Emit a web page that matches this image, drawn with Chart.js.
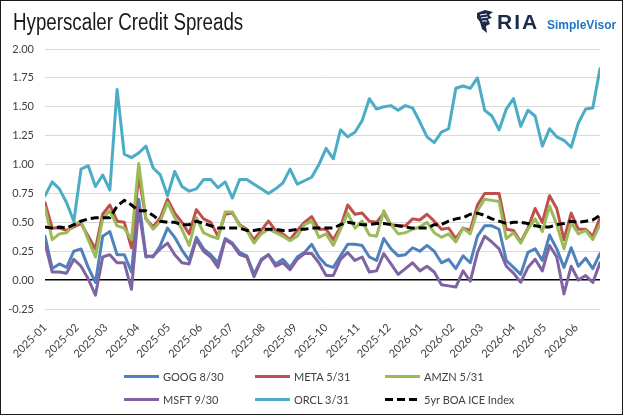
<!DOCTYPE html>
<html>
<head>
<meta charset="utf-8">
<script src="https://cdn.jsdelivr.net/npm/chart.js@4/dist/chart.umd.min.js"></script>
<style>
  html, body { margin: 0; padding: 0; background: #fff; }
  #wrap { position: relative; width: 625px; height: 417px; overflow: hidden; font-family: Lato, 'Liberation Sans', sans-serif; }
  #chart { position: absolute; left: 0; top: 0; }
  #frame { position: absolute; left: 0; top: 0; width: 621px; height: 413px; border: 1px solid #1a1a1a; pointer-events: none; }
  #title { position: absolute; left: 13px; top: 11px; font: 23px/1 'Liberation Sans', Arial, sans-serif; color: #1a1a1a;
           transform: scaleX(0.815); transform-origin: left top; white-space: nowrap; }
  #logo-icon { position: absolute; left: 476px; top: 10px; }
  #logo-ria { position: absolute; left: 497px; top: 11px; font: bold 21px/1 'Liberation Sans', Arial, sans-serif; color: #1c2b4a; letter-spacing: 2px; }
  #logo-sv { position: absolute; left: 547px; top: 19px; font: bold 12px/1 'Liberation Sans', Arial, sans-serif; color: #2274c4; }
  .item { position: absolute; height: 16px; display: flex; align-items: center; font-size: 11px; color: #404040; white-space: nowrap; }
  .swatch { width: 35px; height: 3px; margin-right: 4px; }
</style>
</head>
<body>
<div id="wrap">
  <canvas id="chart" width="625" height="417"></canvas>
  <div id="title">Hyperscaler Credit Spreads</div>
  <svg id="logo-icon" width="18" height="24" viewBox="0 0 18 24">
    <path d="M1 3 L9 0 L17 2 L13 5 L16 8 L12 9 L14 14 L10 16 L11 23 L6 19 L4 12 L1 8 Z" fill="#1c2b4a"/>
    <path d="M4 5 L11 4 M5 8 L12 7 M6 11 L11 11" stroke="#fff" stroke-width="1"/>
  </svg>
  <div id="logo-ria">RIA</div>
  <div id="logo-sv">SimpleVisor</div>
  <div id="legend"></div>
  <div id="frame"></div>
</div>
<script>
// weekly observations
const dates = [
  '2025-01-03', '2025-01-10', '2025-01-17', '2025-01-24', '2025-01-31', '2025-02-07', '2025-02-14', '2025-02-21', '2025-02-28', '2025-03-07',
  '2025-03-14', '2025-03-21', '2025-03-28', '2025-04-04', '2025-04-11', '2025-04-18', '2025-04-25', '2025-05-02', '2025-05-09', '2025-05-16',
  '2025-05-23', '2025-05-30', '2025-06-06', '2025-06-13', '2025-06-20', '2025-06-27', '2025-07-04', '2025-07-11', '2025-07-18', '2025-07-25',
  '2025-08-01', '2025-08-08', '2025-08-15', '2025-08-22', '2025-08-29', '2025-09-05', '2025-09-12', '2025-09-19', '2025-09-26', '2025-10-03',
  '2025-10-10', '2025-10-17', '2025-10-24', '2025-10-31', '2025-11-07', '2025-11-14', '2025-11-21', '2025-11-28', '2025-12-05', '2025-12-12',
  '2025-12-19', '2025-12-26', '2026-01-02', '2026-01-09', '2026-01-16', '2026-01-23', '2026-01-30', '2026-02-06', '2026-02-13', '2026-02-20',
  '2026-02-27', '2026-03-06', '2026-03-13', '2026-03-20', '2026-03-27', '2026-04-03', '2026-04-10', '2026-04-17', '2026-04-24', '2026-05-01',
  '2026-05-08', '2026-05-15', '2026-05-22', '2026-05-29', '2026-06-05', '2026-06-12', '2026-06-19', '2026-06-26'
];

const goog = [
  0.38, 0.10, 0.14, 0.11, 0.25, 0.27, 0.11, -0.02, 0.38, 0.42,
  0.22, 0.22, 0.07, 0.70, 0.21, 0.20, 0.30, 0.45, 0.37, 0.26,
  0.17, 0.37, 0.27, 0.22, 0.15, 0.36, 0.32, 0.24, 0.21, 0.05,
  0.18, 0.22, 0.14, 0.18, 0.11, 0.20, 0.24, 0.31, 0.20, 0.13,
  0.11, 0.21, 0.31, 0.31, 0.30, 0.20, 0.17, 0.36, 0.27, 0.21,
  0.22, 0.28, 0.25, 0.30, 0.25, 0.15, 0.18, 0.10, 0.21, 0.15,
  0.38, 0.47, 0.47, 0.44, 0.17, 0.11, 0.05, 0.24, 0.27, 0.17,
  0.39, 0.27, 0.11, 0.28, 0.12, 0.19, 0.10, 0.23
];
const meta = [
  0.67, 0.45, 0.45, 0.43, 0.46, 0.49, 0.38, 0.27, 0.57, 0.65,
  0.51, 0.50, 0.28, 0.91, 0.53, 0.46, 0.54, 0.70, 0.58, 0.50,
  0.40, 0.61, 0.53, 0.50, 0.38, 0.57, 0.58, 0.48, 0.44, 0.35,
  0.43, 0.51, 0.43, 0.40, 0.35, 0.43, 0.50, 0.55, 0.44, 0.44,
  0.35, 0.46, 0.65, 0.57, 0.58, 0.51, 0.50, 0.58, 0.48, 0.47,
  0.47, 0.53, 0.52, 0.57, 0.51, 0.44, 0.45, 0.36, 0.45, 0.43,
  0.65, 0.75, 0.75, 0.75, 0.44, 0.43, 0.33, 0.45, 0.62, 0.50,
  0.73, 0.62, 0.35, 0.58, 0.44, 0.44, 0.38, 0.54
];
const amzn = [
  0.63, 0.35, 0.40, 0.41, 0.48, 0.51, 0.35, 0.20, 0.53, 0.60,
  0.47, 0.45, 0.35, 1.01, 0.53, 0.44, 0.51, 0.67, 0.54, 0.44,
  0.30, 0.54, 0.41, 0.38, 0.36, 0.59, 0.59, 0.47, 0.43, 0.32,
  0.40, 0.44, 0.41, 0.38, 0.34, 0.38, 0.48, 0.51, 0.37, 0.40,
  0.30, 0.44, 0.58, 0.45, 0.51, 0.39, 0.38, 0.60, 0.48, 0.40,
  0.41, 0.44, 0.46, 0.50, 0.41, 0.37, 0.40, 0.33, 0.45, 0.40,
  0.60, 0.70, 0.69, 0.68, 0.36, 0.41, 0.32, 0.44, 0.53, 0.42,
  0.64, 0.48, 0.27, 0.50, 0.40, 0.43, 0.35, 0.48
];
const msft = [
  0.32, 0.07, 0.07, 0.06, 0.18, 0.12, 0.01, -0.13, 0.20, 0.22,
  0.15, 0.15, -0.08, 0.62, 0.20, 0.21, 0.27, 0.32, 0.22, 0.15,
  0.14, 0.35, 0.25, 0.20, 0.11, 0.35, 0.31, 0.22, 0.20, 0.03,
  0.17, 0.22, 0.12, 0.15, 0.09, 0.18, 0.23, 0.23, 0.15, 0.04,
  0.04, 0.18, 0.24, 0.17, 0.20, 0.07, 0.08, 0.23, 0.14, 0.05,
  0.10, 0.15, 0.08, 0.12, 0.07, -0.04, -0.05, -0.06, 0.08, -0.01,
  0.24, 0.38, 0.33, 0.27, 0.12, 0.06, -0.02, 0.11, 0.18, 0.08,
  0.30, 0.20, -0.12, 0.12, 0.00, 0.04, -0.02, 0.15
];
const orcl = [
  0.73, 0.85, 0.79, 0.67, 0.51, 0.96, 0.99, 0.81, 0.91, 0.78,
  1.65, 1.09, 1.06, 1.10, 1.16, 0.97, 0.91, 0.73, 0.94, 0.81,
  0.77, 0.79, 0.87, 0.87, 0.80, 0.85, 0.71, 0.87, 0.87, 0.83,
  0.79, 0.75, 0.79, 0.84, 0.96, 0.83, 0.86, 0.89, 1.00, 1.14,
  1.05, 1.30, 1.24, 1.28, 1.38, 1.57, 1.48, 1.50, 1.51, 1.47,
  1.51, 1.49, 1.37, 1.24, 1.19, 1.28, 1.31, 1.66, 1.68, 1.66,
  1.75, 1.47, 1.42, 1.30, 1.48, 1.57, 1.33, 1.47, 1.42, 1.16,
  1.31, 1.24, 1.21, 1.15, 1.36, 1.48, 1.49, 1.83
];
const boa5yr = [
  0.46, 0.45, 0.46, 0.45, 0.48, 0.51, 0.53, 0.54, 0.54, 0.54,
  0.64, 0.69, 0.65, 0.60, 0.60, 0.56, 0.51, 0.50, 0.50, 0.48,
  0.48, 0.51, 0.49, 0.47, 0.45, 0.45, 0.45, 0.45, 0.43, 0.43,
  0.44, 0.44, 0.44, 0.43, 0.43, 0.44, 0.44, 0.45, 0.45, 0.45,
  0.45, 0.48, 0.50, 0.49, 0.48, 0.48, 0.49, 0.49, 0.48, 0.47,
  0.46, 0.45, 0.45, 0.45, 0.48, 0.48, 0.51, 0.53, 0.54, 0.57,
  0.58, 0.56, 0.53, 0.51, 0.49, 0.50, 0.50, 0.49, 0.47, 0.46,
  0.46, 0.48, 0.49, 0.51, 0.50, 0.51, 0.52, 0.56
];

const monthLabels = [
  '2025-01', '2025-02', '2025-03', '2025-04', '2025-05', '2025-06', '2025-07', '2025-08', '2025-09',
  '2025-10', '2025-11', '2025-12', '2026-01', '2026-02', '2026-03', '2026-04', '2026-05', '2026-06'
];
const yTicks = [-0.25, 0, 0.25, 0.5, 0.75, 1, 1.25, 1.5, 1.75, 2];

const legendItems = [
  { label: 'GOOG 8/30', color: '#4F81BD' },
  { label: 'META 5/31', color: '#C0504D' },
  { label: 'AMZN 5/31', color: '#9BBB59' },
  { label: 'MSFT 9/30', color: '#8064A2' },
  { label: 'ORCL 3/31', color: '#4BACC6' },
  { label: '5yr BOA ICE Index', color: '#000000', dashed: true }
];
const seriesValues = [goog, meta, amzn, msft, orcl, boa5yr];

// x is days since first observation, like an Excel date axis
const dayOf = s => Math.round((Date.parse(s + 'T00:00:00Z') - Date.parse(dates[0] + 'T00:00:00Z')) / 864e5);
const xs = dates.map(dayOf);
const tickDays = monthLabels.map(m => dayOf(m + '-03'));

const datasets = legendItems.map((it, k) => ({
  label: it.label,
  data: seriesValues[k].map((v, i) => ({ x: xs[i], y: v })),
  borderColor: it.color,
  backgroundColor: it.color,
  borderWidth: 3,
  borderDash: it.dashed ? [8, 4] : [],
  borderCapStyle: it.dashed ? 'butt' : 'round',
  borderJoinStyle: 'round',
  pointRadius: 0,
  tension: 0,
  order: legendItems.length - 1 - k // later series drawn on top
}));

const tickFont = { family: 'Lato', size: 11 };

new Chart(document.getElementById('chart'), {
  type: 'line',
  data: { datasets },
  options: {
    responsive: false,
    animation: false,
    layout: { padding: { left: 0, right: 25, top: 49, bottom: 0 } },
    plugins: { legend: { display: false }, tooltip: { enabled: false } },
    scales: {
      x: {
        type: 'linear',
        min: 0,
        max: xs[xs.length - 1],
        grid: { display: false, drawTicks: false },
        border: { display: false },
        afterBuildTicks: s => { s.ticks = tickDays.map(v => ({ value: v })); },
        afterFit: s => { s.height = 108; },
        ticks: {
          autoSkip: false,
          minRotation: 45,
          maxRotation: 45,
          padding: 12,
          color: '#404040',
          font: tickFont,
          callback: (v, i) => monthLabels[i]
        }
      },
      y: {
        min: -0.25,
        max: 2,
        afterBuildTicks: s => { s.ticks = yTicks.map(v => ({ value: v })); },
        afterFit: s => { s.width = 45; },
        grid: {
          drawTicks: false,
          color: c => c.tick && c.tick.value === 0 ? '#000000' : '#d9d9d9',
          lineWidth: c => c.tick && c.tick.value === 0 ? 1.5 : 1
        },
        border: { display: false },
        ticks: { padding: 11, color: '#404040', font: tickFont, callback: v => v.toFixed(2) }
      }
    }
  }
});

// legend, laid out in three aligned columns like the original
const legend = document.getElementById('legend');
const colX = [124, 255, 385];
const rowY = [368, 391];
legendItems.forEach((it, k) => {
  const el = document.createElement('div');
  el.className = 'item';
  el.style.left = colX[k % 3] + 'px';
  el.style.top = rowY[Math.floor(k / 3)] + 'px';
  const sw = document.createElement('span');
  sw.className = 'swatch';
  sw.style.background = it.dashed
    ? 'repeating-linear-gradient(to right, #000 0 8px, transparent 8px 12px)'
    : it.color;
  el.appendChild(sw);
  el.appendChild(document.createTextNode(it.label));
  legend.appendChild(el);
});
</script>
</body>
</html>
